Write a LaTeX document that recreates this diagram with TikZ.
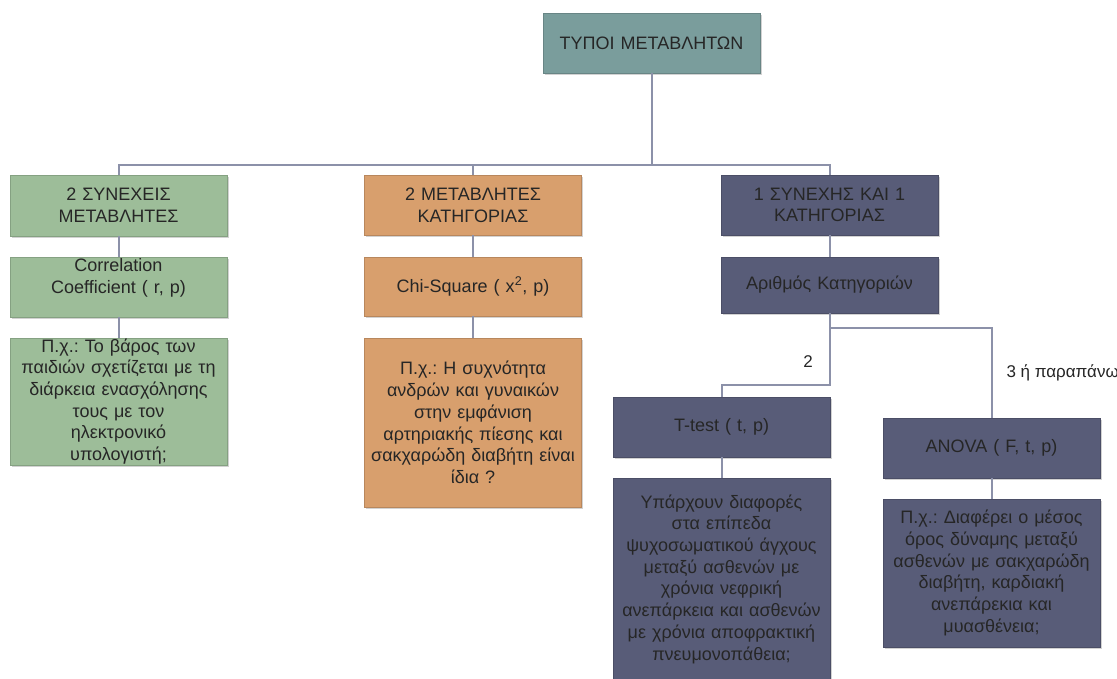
\documentclass[tikz,border=0pt]{standalone}
\usepackage{fontspec}
\setmainfont{Liberation Sans}
\usepackage{tikz}
\usetikzlibrary{shadows}
\definecolor{rootteal}{HTML}{7A9D9C}
\definecolor{contgreen}{HTML}{9DBD99}
\definecolor{catorange}{HTML}{D89F6D}
\definecolor{mixslate}{HTML}{585C78}
\definecolor{linkgray}{HTML}{8C91A9}
\definecolor{inkgray}{HTML}{262626}
\frenchspacing

\begin{document}
\begin{tikzpicture}[x=1pt, y=-1pt,
    box/.style={draw=#1!85!black, fill=#1, line width=0.8pt, minimum width=217pt,
        inner sep=0pt, text width=217pt, align=center, text=inkgray,
        font=\fontsize{18}{21.7}\selectfont,
        drop shadow={shadow xshift=1.5pt, shadow yshift=-1.5pt, opacity=0.35}},
    link/.style={draw=linkgray, line width=2pt},
    tag/.style={text=inkgray, font=\fontsize{17}{18}\selectfont}]
    \useasboundingbox (0,0) rectangle (1117,678);
    \clip (0,0) rectangle (1117,678);
    \fill[white] (0,0) rectangle (1117,678);
    % Root
    \node[box=rootteal, minimum height=60pt] (root) at (651.5,43) {ΤΥΠΟΙ ΜΕΤΑΒΛΗΤΩΝ};
    % Two continuous
    \node[box=contgreen, minimum height=61pt] (cont) at (118.5,205.5) {2 ΣΥΝΕΧΕΙΣ\\ΜΕΤΑΒΛΗΤΕΣ};
    \node[box=contgreen, minimum height=60pt] (corr) at (118.5,287) {Correlation\\Coefficient ( r, p)\\~};
    \node[box=contgreen, minimum height=127pt] (correx) at (118.5,401.5) {Π.χ.: Το βάρος των\\παιδιών σχετίζεται με τη\\διάρκεια ενασχόλησης\\τους με τον\\ηλεκτρονικό\\υπολογιστή;};
    % Two categorical
    \node[box=catorange, minimum height=60pt] (cat) at (473,205) {2 ΜΕΤΑΒΛΗΤΕΣ\\ΚΑΤΗΓΟΡΙΑΣ};
    \node[box=catorange, minimum height=59pt] (chi) at (473,286.5) {Chi-Square ( x\textsuperscript{2}, p)};
    \node[box=catorange, minimum height=169pt] (chiex) at (473,422.5) {Π.χ.: Η συχνότητα\\ανδρών και γυναικών\\στην εμφάνιση\\αρτηριακής πίεσης και\\σακχαρώδη διαβήτη είναι\\ίδια ?};
    % One continuous, one categorical
    \node[box=mixslate, minimum height=60pt] (mix) at (829.5,205) {1 ΣΥΝΕΧΗΣ ΚΑΙ 1\\ΚΑΤΗΓΟΡΙΑΣ};
    \node[box=mixslate, minimum height=56pt] (ncat) at (829.5,285) {Αριθμός Κατηγοριών};
    \node[box=mixslate, minimum height=60pt] (ttest) at (721.5,427) {T-test ( t, p)};
    \node[box=mixslate, minimum height=202pt] (ttestex) at (721.5,579) {Υπάρχουν διαφορές\\στα επίπεδα\\ψυχοσωματικού άγχους\\μεταξύ ασθενών με\\χρόνια νεφρική\\ανεπάρκεια και ασθενών\\με χρόνια αποφρακτική\\πνευμονοπάθεια;};
    \node[box=mixslate, minimum height=60pt] (anova) at (991.5,448) {ANOVA ( F, t, p)};
    \node[box=mixslate, minimum height=148pt] (anovaex) at (991.5,573) {Π.χ.: Διαφέρει ο μέσος\\όρος δύναμης μεταξύ\\ασθενών με σακχαρώδη\\διαβήτη, καρδιακή\\ανεπάρεκια και\\μυασθένεια;};
    % Branch labels
    \node[tag] (two) at (808,362) {2};
    \node[tag, anchor=west] (more) at (1003,373) {3 ή παραπάνω};
    % Connectors
    \coordinate (bus) at (651.5,165);
    \coordinate (split) at (829.5,328);
    \coordinate (elbow) at (829.5,385);
    \draw[link] (root.south) -- (bus);
    \draw[link] (cont.north) |- (bus) -| (mix.north);
    \draw[link] (cat.north) -- (cat.north |- bus);
    \draw[link] (cont.south) -- (corr.north);
    \draw[link] (corr.south) -- (correx.north);
    \draw[link] (cat.south) -- (chi.north);
    \draw[link] (chi.south) -- (chiex.north);
    \draw[link] (mix.south) -- (ncat.north);
    \draw[link] (ncat.south) -- (split) -| (anova.north);
    \draw[link] (split) -- (elbow) -| (ttest.north);
    \draw[link] (ttest.south) -- (ttestex.north);
    \draw[link] (anova.south) -- (anovaex.north);
\end{tikzpicture}
\end{document}
